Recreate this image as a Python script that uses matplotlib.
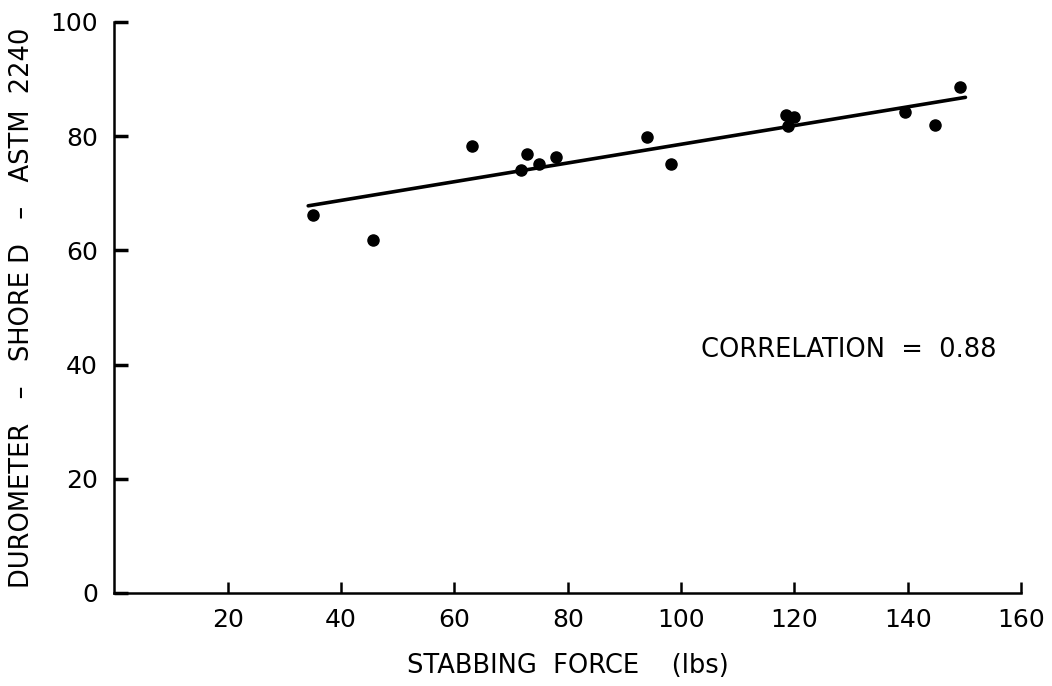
import matplotlib.pyplot as plt

# data
force = [35.0, 45.7, 63.1, 71.8, 72.9, 74.9, 77.9, 94.0, 98.2,
         118.6, 118.9, 119.9, 139.6, 144.8, 149.3]
durometer = [66.2, 61.8, 78.3, 74.1, 76.9, 75.1, 76.3, 79.8, 75.1,
             83.7, 81.7, 83.3, 84.3, 82.0, 88.6]
fit_x = [34.2, 150.2]
fit_y = [67.8, 86.8]
x_ticks = [20, 40, 60, 80, 100, 120, 140, 160]
y_ticks = [0, 20, 40, 60, 80, 100]

plt.rcParams['font.family'] = ['DejaVu Sans']

fig = plt.figure(figsize=(10.52, 6.86), dpi=100)
ax = fig.add_axes([0.1088, 0.1356, 0.9705 - 0.1088, 0.968 - 0.1356])

ax.plot(fit_x, fit_y, color='black', lw=2.6, solid_capstyle='round')
ax.plot(force, durometer, 'o', color='black', ms=8)

ax.set_xlim(0, 160)
ax.set_ylim(0, 100)
ax.set_xticks(x_ticks)
ax.set_yticks(y_ticks)
ax.spines['top'].set_visible(False)
ax.spines['right'].set_visible(False)
for s in ('left', 'bottom'):
    ax.spines[s].set_linewidth(1.8)
ax.tick_params(axis='x', direction='in', length=8, width=1.8, pad=11, labelsize=18)
ax.tick_params(axis='y', direction='in', length=10, width=2.5, pad=12, labelsize=18)

ax.set_xlabel('STABBING  FORCE    (lbs)', fontsize=18.5, labelpad=15)
ax.set_ylabel('DUROMETER   \u2013   SHORE D   \u2013   ASTM  2240',
              fontsize=18.5, labelpad=11)
ax.text(103.5, 42.6, 'CORRELATION  =  0.88', fontsize=18.5, va='center')

fig.savefig('out.png')
